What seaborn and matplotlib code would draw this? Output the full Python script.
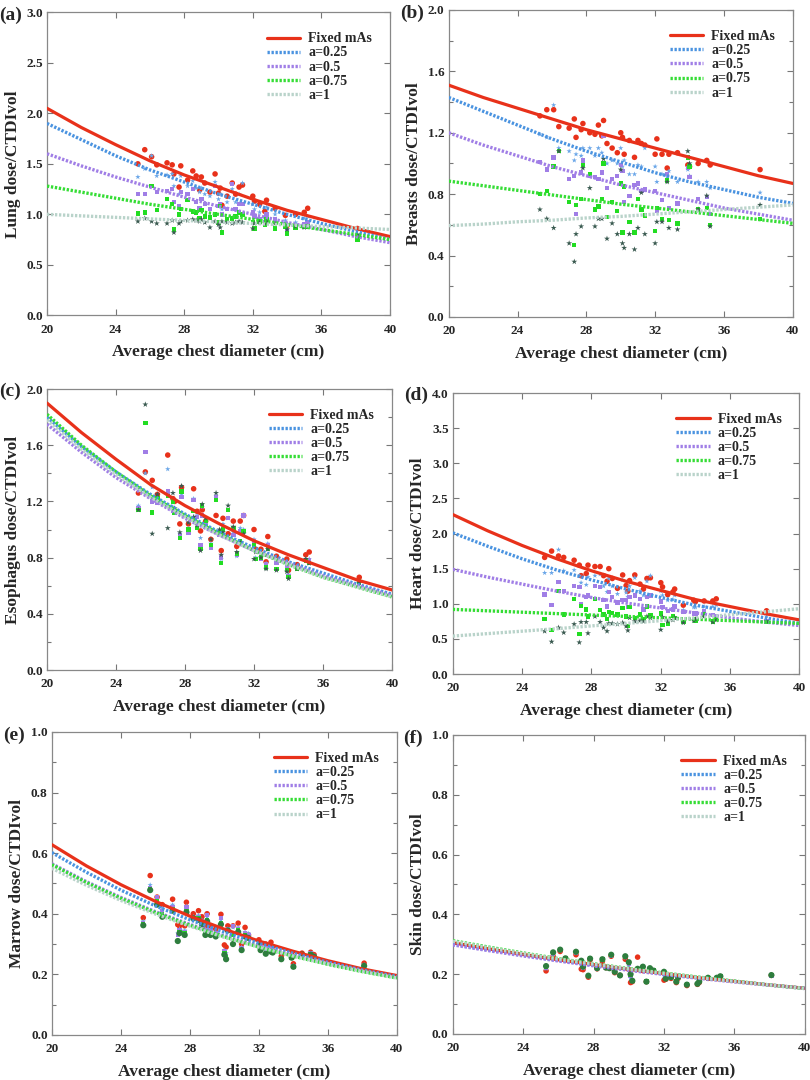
import numpy as np
import matplotlib
matplotlib.use("Agg")
import matplotlib.pyplot as plt
from matplotlib.ticker import MultipleLocator, FormatStrFormatter
import seaborn as sns

# ---- données ----
SERIES = ['Fixed mAs', 'a=0.25', 'a=0.5', 'a=0.75', 'a=1']

# diametres thoraciques des patients (cm)
D = [25.3, 25.7, 26.1, 26.4, 27.0, 27.3, 27.4, 27.7, 27.8, 28.2,
     28.5, 28.7, 28.9, 29.0, 29.2, 29.5, 29.8, 30.0, 30.1, 30.2,
     30.5, 30.8, 31.0, 31.2, 31.4, 32.0, 32.1, 32.4, 32.7, 32.8,
     33.3, 33.9, 34.0, 34.5, 35.0, 35.2, 38.1]

# abscisses des courbes d'ajustement
CURVE_X = [20, 22, 24, 26, 28, 30, 32, 34, 36, 38, 40]

# (a) poumon
LUNG_FIT_FIXED = [2.05, 1.86, 1.69, 1.53, 1.39, 1.27, 1.15, 1.04, 0.95, 0.86, 0.78]
LUNG_FIT_A025 = [1.90, 1.74, 1.58, 1.44, 1.32, 1.20, 1.10, 1.00, 0.91, 0.83, 0.75]
LUNG_FIT_A05 = [1.60, 1.48, 1.37, 1.27, 1.17, 1.08, 1.00, 0.92, 0.85, 0.78, 0.72]
LUNG_FIT_A075 = [1.28, 1.22, 1.16, 1.10, 1.05, 1.00, 0.95, 0.90, 0.85, 0.80, 0.75]
LUNG_FIT_A1 = [1.00, 0.985, 0.97, 0.955, 0.94, 0.925, 0.91, 0.895, 0.88, 0.865, 0.85]

LUNG_FIXED = [1.50, 1.64, 1.57, 1.49, 1.51, 1.49, 1.40, 1.27, 1.48, 1.34,
              1.43, 1.38, 1.24, 1.37, 1.31, 1.22, 1.40, 1.21, 1.26, 1.09,
              1.18, 1.31, 1.20, 1.27, 1.29, 1.18, 1.13, 1.10, 1.03, 1.14,
              1.06, 0.99, 0.89, 1.00, 1.02, 1.06, 0.86]
LUNG_A025 = [1.37, 1.45, 1.58, 1.38, 1.39, 1.40, 1.28, 1.20, 1.38, 1.28,
             1.33, 1.26, 1.22, 1.26, 1.20, 1.18, 1.32, 1.15, 1.20, 1.05,
             1.12, 1.25, 1.12, 1.20, 1.31, 1.10, 1.05, 1.02, 0.97, 1.07,
             1.00, 0.94, 0.85, 0.92, 0.96, 0.98, 0.80]
LUNG_A05 = [1.20, 1.20, 1.28, 1.22, 1.23, 1.25, 1.12, 1.08, 1.22, 1.20,
            1.25, 1.12, 1.06, 1.15, 1.10, 1.05, 1.28, 1.08, 1.10, 1.00,
            1.05, 1.30, 1.05, 1.10, 1.10, 1.02, 0.98, 0.95, 0.92, 1.00,
            0.95, 0.90, 0.84, 0.88, 0.90, 0.92, 0.78]
LUNG_A075 = [1.01, 1.02, 1.28, 1.04, 1.15, 1.10, 0.85, 1.00, 1.05, 1.14,
             1.03, 1.02, 0.96, 1.04, 0.98, 0.97, 1.00, 0.92, 1.08, 0.82,
             0.95, 0.96, 0.98, 1.02, 1.00, 0.92, 0.86, 0.93, 0.90, 0.95,
             0.86, 0.88, 0.81, 0.87, 0.88, 0.88, 0.75]
LUNG_A1 = [0.93, 0.96, 0.93, 0.91, 0.91, 0.94, 0.82, 0.91, 0.93, 0.94,
           0.95, 0.94, 0.93, 0.95, 0.92, 0.87, 0.93, 0.90, 0.87, 0.93,
           0.92, 0.91, 0.92, 0.93, 0.92, 0.86, 0.91, 0.92, 0.91, 0.93,
           0.91, 0.90, 0.85, 0.88, 0.87, 0.88, 0.80]

# (b) seins
BREAST_FIT_FIXED = [1.51, 1.43, 1.36, 1.29, 1.22, 1.16, 1.10, 1.04, 0.98, 0.92, 0.87]
BREAST_FIT_A025 = [1.43, 1.34, 1.25, 1.16, 1.08, 1.01, 0.94, 0.88, 0.83, 0.78, 0.74]
BREAST_FIT_A05 = [1.20, 1.12, 1.05, 0.98, 0.92, 0.86, 0.81, 0.76, 0.71, 0.67, 0.63]
BREAST_FIT_A075 = [0.885, 0.855, 0.825, 0.795, 0.765, 0.735, 0.71, 0.685, 0.66, 0.635, 0.61]
BREAST_FIT_A1 = [0.595, 0.605, 0.62, 0.63, 0.645, 0.655, 0.67, 0.685, 0.70, 0.715, 0.73]

BREAST_FIXED = [1.31, 1.35, 1.35, 1.24, 1.23, 1.29, 1.17, 1.22, 1.26, 1.20,
                1.19, 1.25, 1.18, 1.28, 1.13, 1.10, 1.07, 1.20, 1.17, 1.06,
                1.15, 1.04, 1.15, 1.13, 1.12, 1.06, 1.16, 1.06, 0.97, 1.06,
                1.07, 0.99, 0.98, 1.00, 1.02, 0.99, 0.96]
BREAST_A025 = [1.19, 1.17, 1.38, 1.10, 1.08, 1.02, 1.06, 1.05, 1.10, 1.10,
               1.05, 1.10, 1.07, 1.18, 1.00, 1.02, 1.00, 1.10, 0.98, 1.02,
               0.93, 0.93, 0.99, 0.98, 1.10, 0.98, 0.88, 0.93, 0.91, 0.95,
               0.88, 0.96, 0.92, 0.88, 0.88, 0.84, 0.81]
BREAST_A05 = [1.01, 0.96, 1.04, 1.08, 0.90, 0.92, 0.67, 0.94, 1.02, 0.92,
              0.91, 0.90, 0.94, 1.18, 0.84, 0.90, 0.92, 0.99, 0.95, 0.75,
              0.79, 0.86, 0.87, 0.82, 0.83, 0.82, 0.69, 0.76, 0.93, 0.71,
              0.74, 0.97, 0.91, 0.77, 0.78, 0.67, 0.64]
BREAST_A075 = [0.80, 0.82, 0.98, 1.08, 0.75, 0.47, 0.73, 0.77, 0.99, 0.93,
               0.70, 0.72, 0.77, 1.00, 0.65, 0.75, 0.69, 0.87, 0.55, 0.85,
               0.62, 0.55, 0.77, 0.70, 0.66, 0.56, 0.71, 0.64, 0.89, 0.63,
               0.61, 1.04, 0.98, 0.70, 0.71, 0.60, 0.64]
BREAST_A1 = [0.70, 0.64, 0.58, 1.08, 0.48, 0.36, 0.54, 0.59, 0.97, 0.84,
             0.59, 0.64, 0.64, 1.03, 0.51, 0.61, 0.54, 0.96, 0.48, 0.45,
             0.54, 0.44, 0.58, 0.81, 0.54, 0.48, 0.62, 0.62, 0.88, 0.58,
             0.57, 1.08, 1.00, 0.70, 0.79, 0.59, 0.73]

# (c) oesophage
ESO_FIT_FIXED = [1.90, 1.69, 1.50, 1.32, 1.17, 1.04, 0.92, 0.82, 0.73, 0.64, 0.57]
ESO_FIT_A025 = [1.80, 1.59, 1.41, 1.25, 1.11, 0.98, 0.87, 0.77, 0.69, 0.61, 0.54]
ESO_FIT_A05 = [1.75, 1.55, 1.37, 1.22, 1.08, 0.96, 0.85, 0.76, 0.67, 0.60, 0.53]
ESO_FIT_A075 = [1.82, 1.60, 1.41, 1.24, 1.10, 0.97, 0.85, 0.75, 0.66, 0.59, 0.52]
ESO_FIT_A1 = [1.78, 1.57, 1.39, 1.23, 1.09, 0.96, 0.85, 0.75, 0.66, 0.59, 0.52]

ESO_FIXED = [1.26, 1.41, 1.35, 1.25, 1.53, 1.22, 1.20, 1.04, 1.30, 1.04,
             1.29, 1.13, 0.99, 1.14, 1.06, 0.93, 1.10, 0.97, 0.85, 1.08,
             0.97, 1.06, 0.88, 1.06, 1.10, 1.00, 0.86, 0.86, 0.77, 0.95,
             0.81, 0.79, 0.71, 0.75, 0.82, 0.84, 0.66]
ESO_A025 = [1.17, 1.40, 1.30, 1.22, 1.43, 1.16, 1.14, 0.97, 1.25, 1.01,
            1.22, 1.10, 0.94, 1.16, 1.04, 0.90, 1.24, 0.97, 0.79, 1.04,
            1.08, 0.98, 0.81, 1.01, 1.00, 0.93, 0.80, 0.80, 0.76, 0.90,
            0.77, 0.75, 0.68, 0.73, 0.79, 0.79, 0.63]
ESO_A05 = [1.15, 1.55, 1.20, 1.19, 1.27, 1.13, 1.12, 0.96, 1.23, 0.98,
           1.21, 1.09, 0.89, 1.10, 1.03, 0.87, 1.23, 0.96, 0.80, 1.02,
           1.08, 0.96, 0.82, 0.99, 1.10, 0.92, 0.79, 0.79, 0.75, 0.89,
           0.76, 0.73, 0.67, 0.72, 0.78, 0.78, 0.62]
ESO_A075 = [1.14, 1.76, 1.12, 1.22, 1.24, 1.20, 1.12, 0.94, 1.27, 1.00,
            1.13, 1.01, 0.86, 1.17, 1.06, 0.89, 1.21, 0.98, 0.76, 1.00,
            1.14, 1.01, 0.83, 0.92, 0.99, 0.89, 0.79, 0.80, 0.73, 0.86,
            0.72, 0.71, 0.66, 0.72, 0.78, 0.76, 0.63]
ESO_A1 = [1.14, 1.89, 0.97, 1.25, 1.01, 1.26, 1.15, 0.98, 1.31, 1.05,
          1.09, 1.03, 0.85, 1.18, 1.08, 0.93, 1.26, 1.00, 0.82, 0.98,
          1.17, 1.02, 0.84, 0.91, 0.97, 0.79, 0.84, 0.80, 0.72, 0.86,
          0.71, 0.70, 0.65, 0.72, 0.79, 0.76, 0.62]

# (d) coeur
HEART_FIT_FIXED = [2.27, 2.04, 1.83, 1.64, 1.47, 1.32, 1.19, 1.06, 0.96, 0.86, 0.77]
HEART_FIT_A025 = [2.01, 1.82, 1.64, 1.48, 1.34, 1.21, 1.09, 0.98, 0.89, 0.80, 0.72]
HEART_FIT_A05 = [1.49, 1.38, 1.28, 1.18, 1.09, 1.01, 0.94, 0.87, 0.80, 0.74, 0.69]
HEART_FIT_A075 = [0.92, 0.90, 0.88, 0.86, 0.84, 0.82, 0.80, 0.78, 0.76, 0.74, 0.72]
HEART_FIT_A1 = [0.54, 0.575, 0.61, 0.645, 0.685, 0.72, 0.76, 0.80, 0.845, 0.885, 0.93]

HEART_FIXED = [1.66, 1.75, 1.68, 1.66, 1.62, 1.55, 1.40, 1.43, 1.55, 1.53,
               1.53, 1.40, 1.32, 1.50, 1.36, 1.22, 1.41, 1.26, 1.18, 1.33,
               1.41, 1.28, 1.21, 1.36, 1.37, 1.30, 1.24, 1.13, 1.17, 1.21,
               0.98, 1.05, 1.03, 1.04, 1.04, 1.07, 0.90]
HEART_A025 = [1.44, 1.44, 1.77, 1.47, 1.48, 1.40, 1.30, 1.27, 1.38, 1.40,
              1.42, 1.25, 1.17, 1.36, 1.25, 1.14, 1.34, 1.16, 1.10, 1.25,
              1.37, 1.18, 1.12, 1.32, 1.40, 1.18, 1.12, 1.05, 1.06, 1.12,
              0.91, 0.95, 0.95, 0.96, 0.96, 0.98, 0.82]
HEART_A05 = [1.13, 0.98, 1.31, 1.18, 1.25, 1.24, 1.00, 1.10, 1.12, 1.25,
             1.24, 1.05, 0.96, 1.17, 1.10, 1.02, 1.05, 1.05, 0.95, 1.10,
             1.12, 1.07, 0.92, 1.10, 1.12, 1.03, 0.95, 0.90, 0.92, 0.96,
             0.88, 0.86, 0.86, 0.90, 0.84, 0.83, 0.75]
HEART_A075 = [0.78, 0.63, 1.18, 0.85, 1.07, 0.57, 0.97, 0.92, 0.82, 1.07,
              0.91, 0.85, 0.78, 0.88, 0.87, 0.85, 0.94, 0.82, 0.68, 0.95,
              0.80, 0.85, 0.78, 0.96, 0.84, 0.86, 0.70, 0.72, 0.83, 0.80,
              0.74, 0.78, 0.76, 0.85, 0.75, 0.78, 0.74]
HEART_A1 = [0.61, 0.46, 0.66, 0.59, 0.71, 0.45, 0.74, 0.74, 0.58, 0.82,
            0.74, 0.66, 0.61, 0.72, 0.72, 0.71, 0.73, 0.68, 0.62, 0.80,
            0.75, 0.76, 0.75, 0.82, 0.80, 0.63, 0.81, 0.75, 0.77, 0.80,
            0.73, 0.76, 0.78, 0.82, 0.74, 0.77, 0.75]

# (e) moelle
MARROW_FIT_FIXED = [0.628, 0.558, 0.496, 0.441, 0.392, 0.349, 0.310, 0.276, 0.245, 0.218, 0.196]
MARROW_FIT_A025 = [0.602, 0.537, 0.478, 0.426, 0.380, 0.339, 0.302, 0.269, 0.240, 0.214, 0.193]
MARROW_FIT_A05 = [0.565, 0.506, 0.454, 0.407, 0.365, 0.327, 0.293, 0.263, 0.236, 0.212, 0.190]
MARROW_FIT_A075 = [0.562, 0.503, 0.451, 0.404, 0.362, 0.324, 0.290, 0.260, 0.233, 0.209, 0.188]
MARROW_FIT_A1 = [0.550, 0.494, 0.444, 0.399, 0.359, 0.322, 0.290, 0.260, 0.234, 0.210, 0.188]

MARROW_FIXED = [0.387, 0.526, 0.455, 0.430, 0.448, 0.364, 0.360, 0.360, 0.438, 0.400,
                0.410, 0.390, 0.360, 0.400, 0.360, 0.350, 0.398, 0.297, 0.290, 0.360,
                0.360, 0.369, 0.300, 0.355, 0.330, 0.314, 0.300, 0.300, 0.306, 0.290,
                0.260, 0.265, 0.235, 0.270, 0.273, 0.265, 0.237]
MARROW_A025 = [0.375, 0.495, 0.450, 0.420, 0.430, 0.335, 0.350, 0.345, 0.425, 0.390,
               0.395, 0.380, 0.350, 0.390, 0.350, 0.340, 0.380, 0.280, 0.270, 0.350,
               0.355, 0.355, 0.290, 0.340, 0.335, 0.305, 0.295, 0.290, 0.295, 0.285,
               0.255, 0.260, 0.230, 0.265, 0.270, 0.262, 0.232]
MARROW_A05 = [0.370, 0.485, 0.456, 0.410, 0.420, 0.330, 0.345, 0.340, 0.420, 0.385,
              0.390, 0.375, 0.345, 0.395, 0.345, 0.335, 0.385, 0.275, 0.260, 0.350,
              0.360, 0.350, 0.285, 0.335, 0.330, 0.300, 0.290, 0.285, 0.290, 0.280,
              0.250, 0.260, 0.228, 0.265, 0.270, 0.260, 0.230]
MARROW_A075 = [0.365, 0.480, 0.440, 0.400, 0.415, 0.310, 0.340, 0.335, 0.410, 0.385,
               0.385, 0.370, 0.335, 0.380, 0.330, 0.330, 0.370, 0.270, 0.255, 0.345,
               0.330, 0.345, 0.280, 0.330, 0.320, 0.295, 0.285, 0.270, 0.280, 0.275,
               0.250, 0.255, 0.225, 0.265, 0.265, 0.258, 0.228]
MARROW_A1 = [0.362, 0.478, 0.430, 0.390, 0.410, 0.310, 0.336, 0.330, 0.405, 0.385,
             0.380, 0.365, 0.330, 0.375, 0.330, 0.325, 0.365, 0.265, 0.250, 0.345,
             0.300, 0.340, 0.280, 0.325, 0.320, 0.295, 0.280, 0.268, 0.275, 0.272,
             0.250, 0.255, 0.225, 0.265, 0.265, 0.258, 0.228]

# (f) peau
SKIN_FIT_FIXED = [0.305, 0.285, 0.266, 0.248, 0.232, 0.216, 0.202, 0.188, 0.176, 0.164, 0.153]
SKIN_FIT_A025 = [0.300, 0.281, 0.263, 0.246, 0.230, 0.215, 0.201, 0.188, 0.176, 0.164, 0.153]
SKIN_FIT_A05 = [0.298, 0.279, 0.261, 0.244, 0.228, 0.213, 0.199, 0.186, 0.174, 0.163, 0.152]
SKIN_FIT_A075 = [0.312, 0.291, 0.271, 0.252, 0.235, 0.219, 0.204, 0.190, 0.177, 0.164, 0.152]
SKIN_FIT_A1 = [0.310, 0.289, 0.269, 0.251, 0.234, 0.218, 0.203, 0.189, 0.176, 0.164, 0.152]

SKIN_FIXED = [0.211, 0.260, 0.276, 0.248, 0.265, 0.217, 0.215, 0.190, 0.248, 0.218,
              0.243, 0.222, 0.220, 0.260, 0.205, 0.196, 0.250, 0.216, 0.172, 0.175,
              0.257, 0.212, 0.175, 0.218, 0.210, 0.180, 0.183, 0.186, 0.172, 0.186,
              0.162, 0.166, 0.172, 0.186, 0.186, 0.190, 0.196]
SKIN_A025 = [0.218, 0.266, 0.279, 0.250, 0.270, 0.230, 0.220, 0.192, 0.250, 0.219,
             0.246, 0.222, 0.220, 0.262, 0.206, 0.196, 0.255, 0.228, 0.186, 0.176,
             0.216, 0.218, 0.175, 0.219, 0.211, 0.194, 0.184, 0.188, 0.173, 0.188,
             0.163, 0.167, 0.173, 0.187, 0.187, 0.191, 0.196]
SKIN_A05 = [0.222, 0.269, 0.280, 0.251, 0.272, 0.238, 0.222, 0.193, 0.251, 0.219,
            0.248, 0.222, 0.220, 0.263, 0.207, 0.196, 0.257, 0.234, 0.193, 0.177,
            0.217, 0.221, 0.175, 0.219, 0.211, 0.201, 0.184, 0.189, 0.174, 0.189,
            0.164, 0.167, 0.174, 0.187, 0.187, 0.192, 0.196]
SKIN_A075 = [0.225, 0.271, 0.281, 0.252, 0.274, 0.242, 0.224, 0.194, 0.252, 0.220,
             0.249, 0.222, 0.220, 0.264, 0.208, 0.196, 0.259, 0.238, 0.197, 0.178,
             0.218, 0.223, 0.175, 0.220, 0.212, 0.205, 0.185, 0.190, 0.175, 0.190,
             0.165, 0.168, 0.175, 0.188, 0.188, 0.193, 0.197]
SKIN_A1 = [0.227, 0.273, 0.282, 0.253, 0.275, 0.245, 0.225, 0.195, 0.252, 0.220,
           0.250, 0.222, 0.220, 0.265, 0.208, 0.196, 0.260, 0.240, 0.200, 0.178,
           0.218, 0.225, 0.175, 0.220, 0.212, 0.208, 0.185, 0.190, 0.175, 0.190,
           0.165, 0.168, 0.175, 0.188, 0.188, 0.193, 0.197]

# ---- config ----
sns.set_style("ticks")
plt.rcParams['font.family'] = ['Liberation Serif', 'DejaVu Serif']
plt.rcParams['font.weight'] = 'bold'
plt.rcParams['axes.labelweight'] = 'bold'

LINE_COLORS = ['#e8311a', '#4a93e0', '#a07ee6', '#35dd35', '#b9d3ca']
POINT_COLORS = ['#e8311a', '#6aa6e8', '#a07ee6', '#22dd22', '#3a5a50']
MARKERS = ['o', '*', 's', 's', '*']
SIZES = [16, 16, 10, 10, 20]
DOTTED = (0, (0.7, 0.5))


def panneau(ax, tag, ylabel, ymax, ymaj, ymin, fits, pts, a1_style=None):
    """un panneau : points des patients + courbes d'ajustement"""
    markers = list(MARKERS)
    pcolors = list(POINT_COLORS)
    if a1_style is not None:
        markers[4], pcolors[4] = a1_style

    # points
    for i in range(5):
        sns.scatterplot(x=D, y=pts[i], ax=ax, marker=markers[i], s=SIZES[i],
                        color=pcolors[i], edgecolor='none', linewidth=0,
                        zorder=2)

    # courbes
    for i in range(5):
        sty = '-' if i == 0 else DOTTED
        lw = 2.3 if i == 0 else 2.4
        sns.lineplot(x=CURVE_X, y=fits[i], ax=ax, color=LINE_COLORS[i],
                     linestyle=sty, linewidth=lw, label=SERIES[i], zorder=3)

    ax.set_xlim(20, 40)
    ax.set_ylim(0, ymax)
    ax.xaxis.set_major_locator(MultipleLocator(4))
    ax.yaxis.set_major_locator(MultipleLocator(ymaj))
    if ymin:
        ax.yaxis.set_minor_locator(MultipleLocator(ymin))
    ax.yaxis.set_major_formatter(FormatStrFormatter('%.1f'))
    ax.tick_params(which='both', direction='in', top=True, right=True,
                   color='#777777', labelsize=9.5)
    ax.tick_params(axis='y', pad=3)
    ax.tick_params(axis='x', pad=6)
    ax.tick_params(which='major', length=4, width=0.8)
    ax.tick_params(which='minor', length=3, width=0.8)
    for lab in ax.get_xticklabels() + ax.get_yticklabels():
        lab.set_fontweight('bold')
    for sp in ax.spines.values():
        sp.set_color('#888888')
        sp.set_linewidth(0.9)

    ax.set_xlabel('Average chest diameter (cm)', fontsize=12.5, labelpad=6)
    ax.set_ylabel(ylabel, fontsize=12.5, labelpad=4)

    leg = ax.legend(loc='upper right', bbox_to_anchor=(0.985, 0.975),
                    frameon=False, fontsize=10, handlelength=2.4,
                    handletextpad=0.6, labelspacing=0.08)
    for t in leg.get_texts():
        t.set_fontweight('bold')

    # etiquette du panneau, a gauche du dernier tick
    ax.text(-0.14, 0.99, tag, transform=ax.transAxes, fontsize=14,
            fontweight='bold', va='center', ha='left')


fig = plt.figure(figsize=(8.1, 10.8), dpi=100)

ax_a = fig.add_axes([0.058, 0.708, 0.4235, 0.2806])
ax_b = fig.add_axes([0.554, 0.7065, 0.4247, 0.2843])
ax_c = fig.add_axes([0.058, 0.3796, 0.426, 0.2602])
ax_d = fig.add_axes([0.559, 0.3759, 0.428, 0.2602])
ax_e = fig.add_axes([0.064, 0.0417, 0.426, 0.2806])
ax_f = fig.add_axes([0.559, 0.0426, 0.4346, 0.2769])

panneau(ax_a, '(a)', 'Lung dose/CTDIvol', 3.0, 0.5, None,
        [LUNG_FIT_FIXED, LUNG_FIT_A025, LUNG_FIT_A05, LUNG_FIT_A075, LUNG_FIT_A1],
        [LUNG_FIXED, LUNG_A025, LUNG_A05, LUNG_A075, LUNG_A1])
panneau(ax_b, '(b)', 'Breasts dose/CTDIvol', 2.0, 0.4, 0.2,
        [BREAST_FIT_FIXED, BREAST_FIT_A025, BREAST_FIT_A05, BREAST_FIT_A075, BREAST_FIT_A1],
        [BREAST_FIXED, BREAST_A025, BREAST_A05, BREAST_A075, BREAST_A1])
panneau(ax_c, '(c)', 'Esophagus dose/CTDIvol', 2.0, 0.4, 0.2,
        [ESO_FIT_FIXED, ESO_FIT_A025, ESO_FIT_A05, ESO_FIT_A075, ESO_FIT_A1],
        [ESO_FIXED, ESO_A025, ESO_A05, ESO_A075, ESO_A1])
panneau(ax_d, '(d)', 'Heart dose/CTDIvol', 4.0, 0.5, None,
        [HEART_FIT_FIXED, HEART_FIT_A025, HEART_FIT_A05, HEART_FIT_A075, HEART_FIT_A1],
        [HEART_FIXED, HEART_A025, HEART_A05, HEART_A075, HEART_A1])
panneau(ax_e, '(e)', 'Marrow dose/CTDIvol', 1.0, 0.2, 0.1,
        [MARROW_FIT_FIXED, MARROW_FIT_A025, MARROW_FIT_A05, MARROW_FIT_A075, MARROW_FIT_A1],
        [MARROW_FIXED, MARROW_A025, MARROW_A05, MARROW_A075, MARROW_A1],
        a1_style=('o', '#2e7d3e'))
panneau(ax_f, '(f)', 'Skin dose/CTDIvol', 1.0, 0.2, 0.1,
        [SKIN_FIT_FIXED, SKIN_FIT_A025, SKIN_FIT_A05, SKIN_FIT_A075, SKIN_FIT_A1],
        [SKIN_FIXED, SKIN_A025, SKIN_A05, SKIN_A075, SKIN_A1],
        a1_style=('o', '#2e7d3e'))

fig.savefig('out.png', dpi=100)
plt.close(fig)
